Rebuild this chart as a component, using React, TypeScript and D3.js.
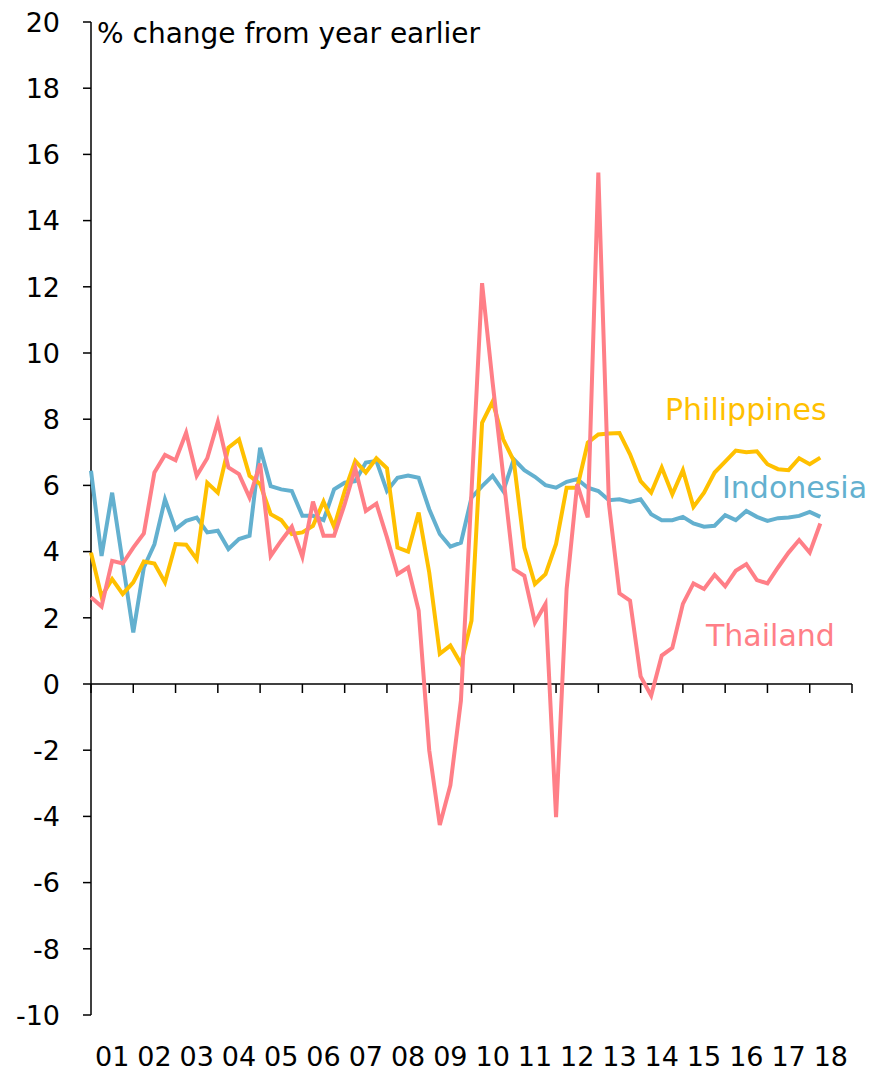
import React from "react";
import * as d3 from "d3";

const W = 875;
const H = 1071;

const yearLabels = ["01","02","03","04","05","06","07","08","09","10","11","12","13","14","15","16","17","18"];
const yTicks = [-10,-8,-6,-4,-2,0,2,4,6,8,10,12,14,16,18,20];

// Quarterly, 2001Q1 .. 2018Q2
const indonesia = [
  6.44, 3.87, 5.78, 3.67, 1.56, 3.52, 4.22, 5.58, 4.68, 4.93, 5.03, 4.58,
  4.63, 4.08, 4.38, 4.48, 7.14, 5.98, 5.88, 5.83, 5.08, 5.08, 4.95, 5.88,
  6.08, 6.13, 6.69, 6.74, 5.83, 6.23, 6.30, 6.23, 5.28, 4.53, 4.15, 4.27,
  5.63, 5.98, 6.29, 5.83, 6.79, 6.46, 6.26, 6.01, 5.93, 6.11, 6.19, 5.93,
  5.83, 5.55, 5.58, 5.50, 5.58, 5.13, 4.95, 4.95, 5.05, 4.85, 4.75, 4.78,
  5.10, 4.95, 5.23, 5.05, 4.93, 5.01, 5.03, 5.08, 5.20, 5.05
];
const thailand = [
  2.62, 2.34, 3.72, 3.64, 4.12, 4.55, 6.39, 6.92, 6.76, 7.59, 6.29, 6.82,
  7.92, 6.54, 6.34, 5.63, 6.66, 3.87, 4.33, 4.75, 3.84, 5.51, 4.48, 4.48,
  5.43, 6.52, 5.23, 5.45, 4.43, 3.32, 3.52, 2.22, -2.0, -4.26, -3.06, -0.50,
  5.8, 12.11, 9.1, 6.3, 3.47, 3.27, 1.86, 2.42, -4.02, 2.87, 6.04, 5.03,
  15.45, 5.45, 2.74, 2.52, 0.23, -0.35, 0.86, 1.09, 2.42, 3.04, 2.87, 3.30,
  2.95, 3.42, 3.62, 3.14, 3.04, 3.52, 3.97, 4.35, 3.97, 4.85
];
const philippines = [
  3.97, 2.64, 3.17, 2.72, 3.07, 3.70, 3.64, 3.07, 4.23, 4.21, 3.77, 6.08,
  5.78, 7.14, 7.39, 6.29, 6.04, 5.13, 4.95, 4.53, 4.58, 4.78, 5.51, 4.75,
  5.83, 6.74, 6.39, 6.82, 6.52, 4.12, 4.00, 5.18, 3.37, 0.91, 1.16, 0.61,
  1.91, 7.89, 8.53, 7.39, 6.74, 4.12, 3.02, 3.32, 4.23, 5.93, 5.93, 7.29,
  7.54, 7.57, 7.58, 6.94, 6.13, 5.78, 6.54, 5.73, 6.46, 5.35, 5.78, 6.39,
  6.72, 7.05, 7.00, 7.03, 6.64, 6.49, 6.46, 6.82, 6.64, 6.84
];

const series = [
  { name: "Indonesia", values: indonesia, color: "#63B0CF", lx: 722, ly: 498 },
  { name: "Philippines", values: philippines, color: "#FFC000", lx: 665, ly: 420 },
  { name: "Thailand", values: thailand, color: "#FF7F87", lx: 706, ly: 646 },
];

const FONT = "'DejaVu Sans', sans-serif";

export default function App() {
  const x = d3.scaleLinear().domain([0, yearLabels.length * 4]).range([91, 852]);
  const y = d3.scaleLinear().domain([-10, 20]).range([1015, 22]);
  const line = d3
    .line<number>()
    .x((_, i) => x(i))
    .y((d) => y(d));

  const yearTicks = d3.range(0, yearLabels.length * 4 + 1, 4);

  return (
    <div style={{ position: "fixed", left: 0, top: 0, width: W, height: H, background: "#fff" }}>
      <svg width={W} height={H} style={{ display: "block" }}>
        <rect width={W} height={H} fill="#fff" />
        {/* y axis */}
        <line x1={x(0)} x2={x(0)} y1={y(20)} y2={y(-10)} stroke="#000" strokeWidth={1.5} />
        {yTicks.map((t) => (
          <g key={t}>
            <line x1={x(0) - 8} x2={x(0)} y1={y(t)} y2={y(t)} stroke="#000" strokeWidth={1.5} />
            <text
              x={60}
              y={y(t)}
              dy="0.36em"
              textAnchor="end"
              fontFamily={FONT}
              fontSize={27}
              fill="#000"
            >
              {t}
            </text>
          </g>
        ))}
        {/* x axis at zero */}
        <line x1={x(0)} x2={x(yearLabels.length * 4)} y1={y(0)} y2={y(0)} stroke="#000" strokeWidth={1.5} />
        {yearTicks.map((q) => (
          <line key={q} x1={x(q)} x2={x(q)} y1={y(0)} y2={y(0) + 9} stroke="#000" strokeWidth={1.5} />
        ))}
        {yearLabels.map((lab, i) => (
          <text
            key={lab}
            x={x(i * 4 + 2)}
            y={1066}
            textAnchor="middle"
            fontFamily={FONT}
            fontSize={27}
            fill="#000"
          >
            {lab}
          </text>
        ))}
        {/* title */}
        <text x={97} y={43} fontFamily={FONT} fontSize={28} fill="#000">
          % change from year earlier
        </text>
        {/* series */}
        {series.map((s) => (
          <path
            key={s.name}
            d={line(s.values) || ""}
            fill="none"
            stroke={s.color}
            strokeWidth={4}
            strokeLinejoin="miter"
          />
        ))}
        {series.map((s) => (
          <text key={s.name + "l"} x={s.lx} y={s.ly} fontFamily={FONT} fontSize={30} fill={s.color}>
            {s.name}
          </text>
        ))}
      </svg>
    </div>
  );
}
